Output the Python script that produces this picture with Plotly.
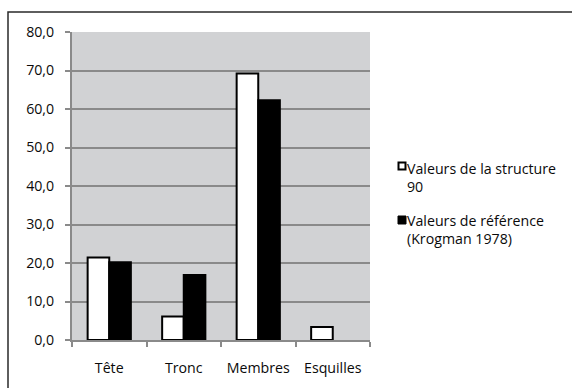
import plotly.graph_objects as go

categories = ["Tête", "Tronc", "Membres", "Esquilles"]
structure_90 = [21.4, 6.1, 69.2, 3.4]
krogman_1978 = [20.2, 16.9, 62.3, None]
series_names = ["Valeurs de la structure<br>90", "Valeurs de référence<br>(Krogman 1978)"]
y_ticks = [0, 10, 20, 30, 40, 50, 60, 70, 80]

W, H = 572, 388
L, R, T, B = 72, 202, 32, 48
pw, ph = W - L - R, H - T - B


def px(x):
    return (x - L) / pw


def py(y):
    return (H - B - y) / ph


FONT = "'Open Sans', 'Noto Sans', sans-serif"
FS = 14.2
INK = "#0a0a0a"

fig = go.Figure()
fig.add_trace(go.Bar(
    x=categories, y=structure_90, name=series_names[0],
    marker=dict(color="white", line=dict(color="black", width=2)),
    showlegend=False,
))
fig.add_trace(go.Bar(
    x=categories, y=krogman_1978, name=series_names[1],
    marker=dict(color="black", line=dict(color="black", width=2)),
    showlegend=False,
))

shapes = [
    # outer chart frame
    dict(type="rect", xref="paper", yref="paper",
         x0=px(8), x1=px(W + 10), y0=py(H + 10), y1=py(12),
         line=dict(color="#2a2a2a", width=1.5), fillcolor="rgba(0,0,0,0)", layer="below"),
    # legend keys
    dict(type="rect", xref="paper", yref="paper",
         x0=px(398.5), x1=px(405.5), y0=py(169.5), y1=py(162.5),
         line=dict(color="black", width=2), fillcolor="white"),
    dict(type="rect", xref="paper", yref="paper",
         x0=px(398), x1=px(406), y0=py(224), y1=py(216),
         line=dict(color="black", width=1), fillcolor="black"),
]

annotations = [
    dict(xref="paper", yref="paper", x=px(405), y=py(157), xanchor="left", yanchor="top",
         text=series_names[0], showarrow=False, align="left",
         font=dict(family=FONT, size=FS, color=INK)),
    dict(xref="paper", yref="paper", x=px(405), y=py(209), xanchor="left", yanchor="top",
         text=series_names[1], showarrow=False, align="left",
         font=dict(family=FONT, size=FS, color=INK)),
]

fig.update_layout(
    width=W, height=H,
    margin=dict(l=L, r=R, t=T, b=B, pad=0, autoexpand=False),
    paper_bgcolor="white",
    plot_bgcolor="#d1d2d4",
    barmode="group",
    bargap=0.42,
    bargroupgap=0,
    separators=", ",
    font=dict(family=FONT, size=FS, color=INK),
    shapes=shapes,
    annotations=annotations,
    showlegend=False,
)
fig.update_yaxes(
    range=[0, 80], tickvals=y_ticks, tickformat=".1f",
    showgrid=True, gridcolor="#8a8a8a", gridwidth=2,
    showline=True, linecolor="#8a8a8a", linewidth=2,
    ticks="outside", ticklen=5, tickcolor="#8a8a8a", tickwidth=2,
    ticklabelstandoff=8, zeroline=False, automargin=False,
)
fig.update_xaxes(
    showline=True, linecolor="#8a8a8a", linewidth=2,
    ticks="outside", ticklen=5, tickcolor="#8a8a8a", tickwidth=2,
    tickson="boundaries", ticklabelstandoff=14, tickangle=0, automargin=False,
)

fig.write_html("out.html")
